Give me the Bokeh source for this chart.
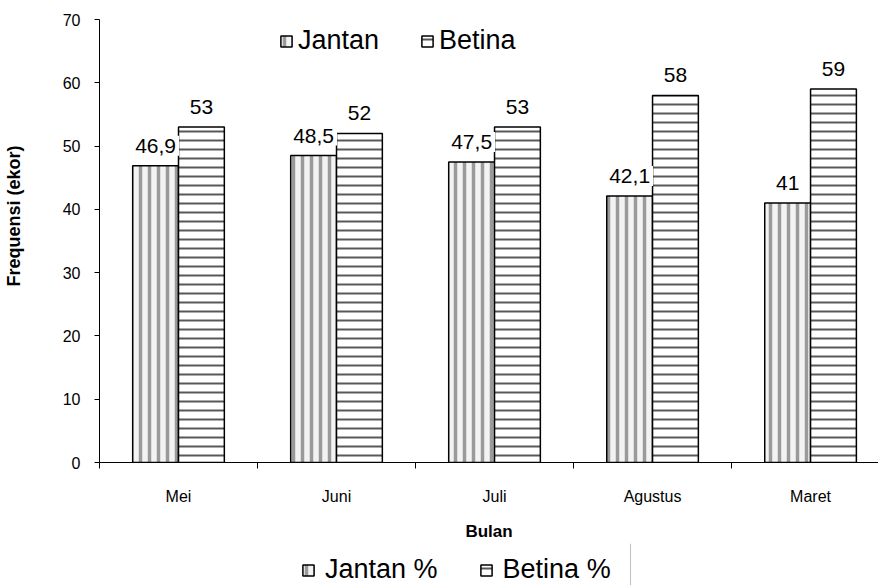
from bokeh.plotting import figure
from bokeh.layouts import column
from bokeh.models import (ColumnDataSource, FixedTicker, Legend, LegendItem,
                          Range1d, SingleIntervalTicker, Span)
from bokeh.embed import file_html
from bokeh.resources import INLINE
from bokeh.core.properties import value

# Monthly sex ratio of the catch
months = ["Mei", "Juni", "Juli", "Agustus", "Maret"]
jantan = [46.9, 48.5, 47.5, 42.1, 41]
betina = [53, 52, 53, 58, 59]
jantan_text = ["46,9", "48,5", "47,5", "42,1", "41"]
betina_text = ["53", "52", "53", "58", "59"]
y_ticks_step = 10
y_max = 70

FONT = "Liberation Sans"
BAR_W = 0.29

W = 878
H_MAIN, H_KEY = 543, 42
BORDER_L, BORDER_T, BORDER_B = 99, 19, 81
FRAME_H = H_MAIN - BORDER_T - BORDER_B
PX_PER_UNIT = FRAME_H / y_max
LABEL_GAP = 10 / PX_PER_UNIT   # 10 px between bar top and label anchor

JANTAN_STYLE = dict(fill_color="#f3f3f3", line_color="black", line_width=1.5,
                    hatch_pattern="vertical_line", hatch_color="#9a9a9a",
                    hatch_weight=3.5, hatch_scale=9)
BETINA_STYLE = dict(fill_color="white", line_color="black", line_width=1.5,
                    hatch_pattern="horizontal_line", hatch_color="#585858",
                    hatch_weight=2, hatch_scale=9)

centers = [i + 0.5 for i in range(len(months))]
src = ColumnDataSource(dict(
    xj=[c - BAR_W / 2 for c in centers],
    xb=[c + BAR_W / 2 for c in centers],
    jantan=jantan, betina=betina,
    jy=[v + LABEL_GAP for v in jantan],
    by=[v + LABEL_GAP for v in betina],
    jt=jantan_text, bt=betina_text,
))

p = figure(width=W, height=H_MAIN, output_backend="svg", toolbar_location=None,
           x_range=Range1d(0, 4.93), y_range=Range1d(0, y_max),
           min_border_left=BORDER_L, min_border_right=0,
           min_border_top=BORDER_T, min_border_bottom=BORDER_B)
p.outline_line_color = None
p.xgrid.visible = False
p.ygrid.visible = False

r_j = p.vbar(x="xj", top="jantan", bottom=0, width=BAR_W, source=src,
             **JANTAN_STYLE)
r_b = p.vbar(x="xb", top="betina", bottom=0, width=BAR_W, source=src,
             **BETINA_STYLE)

# value labels on white boxes
for xcol, ycol, tcol in (("xb", "by", "bt"), ("xj", "jy", "jt")):
    p.text(x=xcol, y=ycol, text=tcol, source=src, text_align="center",
           text_baseline="bottom",
           text_font=value(FONT), text_font_size="21px", text_color="black",
           background_fill_color="white", padding=3)

# x axis: ticks on category boundaries, labels at centres
xa = p.xaxis[0]
xa.ticker = FixedTicker(ticks=centers, minor_ticks=list(range(len(months))))
xa.major_label_overrides = {c: m for c, m in zip(centers, months)}
xa.major_tick_out = 0
xa.major_tick_in = 0
xa.minor_tick_out = 6
xa.minor_tick_in = 0
xa.minor_tick_line_color = "black"
xa.axis_line_color = "black"
xa.major_label_standoff = 19
xa.major_label_text_font = FONT
xa.major_label_text_font_size = "16px"
xa.major_label_text_color = "black"
xa.axis_label = "Bulan"
xa.axis_label_text_font = FONT
xa.axis_label_text_font_style = "bold"
xa.axis_label_text_font_size = "17px"
xa.axis_label_text_color = "black"
xa.axis_label_standoff = 14

ya = p.yaxis[0]
ya.ticker = SingleIntervalTicker(interval=y_ticks_step, num_minor_ticks=0)
ya.major_tick_out = 5
ya.major_tick_in = 0
ya.minor_tick_out = 0
ya.major_label_standoff = 14
ya.major_label_text_font = FONT
ya.major_label_text_font_size = "16px"
ya.major_label_text_color = "black"
ya.axis_line_color = "black"
# leading no-break spaces lift the title a little above the frame centre
ya.axis_label = "\u00a0" * 10 + "Frequensi (ekor)"
ya.axis_label_text_font = FONT
ya.axis_label_text_font_style = "bold"
ya.axis_label_text_font_size = "18px"
ya.axis_label_text_color = "black"
ya.axis_label_standoff = 36

top_legend = Legend(items=[LegendItem(label="Jantan", renderers=[r_j]),
                           LegendItem(label="Betina", renderers=[r_b])],
                    location=(180, FRAME_H - 37), orientation="horizontal",
                    padding=0, margin=0, spacing=41, label_standoff=5,
                    glyph_width=14, glyph_height=14,
                    label_text_font=FONT, label_text_font_size="27px",
                    label_text_color="black",
                    border_line_color=None, background_fill_alpha=0)
p.add_layout(top_legend, "center")

# key strip under the chart (its frame lines up with the chart frame)
key = figure(width=W, height=H_KEY, output_backend="svg", toolbar_location=None,
             x_axis_location=None, y_axis_location=None,
             x_range=Range1d(0, 1), y_range=Range1d(0, 1),
             min_border=0, outline_line_color=None)
key.xgrid.visible = False
key.ygrid.visible = False
k_j = key.vbar(x="xj", top="jantan", width=BAR_W, source=src, visible=False,
               **JANTAN_STYLE)
k_b = key.vbar(x="xb", top="betina", width=BAR_W, source=src, visible=False,
               **BETINA_STYLE)
bottom_legend = Legend(items=[LegendItem(label="Jantan %", renderers=[k_j]),
                              LegendItem(label="Betina %", renderers=[k_b])],
                       location=(202, 0), orientation="horizontal",
                       padding=0, margin=0, spacing=41, label_standoff=10,
                       glyph_width=14, glyph_height=14,
                       label_text_font=FONT, label_text_font_size="27px",
                       label_text_color="black",
                       inactive_fill_alpha=0,
                       border_line_color=None, background_fill_alpha=0)
key.add_layout(bottom_legend, "center")
key.add_layout(Span(location=531, location_units="screen", dimension="height",
                    line_color="#c0c0c0", line_width=1))

layout = column(p, key, spacing=0)
open("out.html", "w").write(file_html(layout, INLINE))
